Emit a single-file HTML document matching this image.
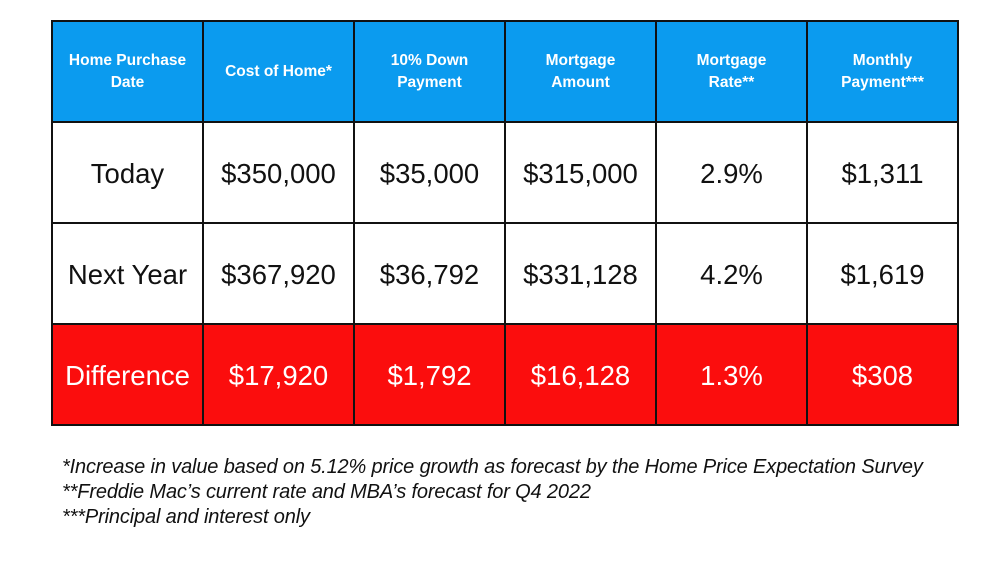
<!DOCTYPE html>
<html><head><style>
body{margin:0;width:1000px;height:563px;background:#fff;overflow:hidden;font-family:"Liberation Sans",sans-serif;}
table{position:absolute;left:51px;top:20px;border-collapse:collapse;table-layout:fixed;}
td{border:2px solid #111;text-align:center;padding:0;width:149px;}
tr.h td{background:#0b9bef;color:#fff;font-weight:bold;font-size:15.5px;height:99px;line-height:22px;}
tr.w td{height:97px;font-size:27.5px;color:#111;padding-top:2px;}
tr.r td{background:#fb0d0d;color:#fff;height:97px;font-size:27.5px;padding-top:2px;}
.n{position:absolute;left:62px;top:455px;font-style:italic;font-size:20px;line-height:25px;color:#111;letter-spacing:-0.15px;}
</style></head><body>
<table>
<tr class="h"><td>Home Purchase<br>Date</td><td>Cost of Home*</td><td>10% Down<br>Payment</td><td>Mortgage<br>Amount</td><td>Mortgage<br>Rate**</td><td>Monthly<br>Payment***</td></tr>
<tr class="w"><td>Today</td><td>$350,000</td><td>$35,000</td><td>$315,000</td><td>2.9%</td><td>$1,311</td></tr>
<tr class="w"><td>Next Year</td><td>$367,920</td><td>$36,792</td><td>$331,128</td><td>4.2%</td><td>$1,619</td></tr>
<tr class="r"><td>Difference</td><td>$17,920</td><td>$1,792</td><td>$16,128</td><td>1.3%</td><td>$308</td></tr>
</table>
<div class="n">*Increase in value based on 5.12% price growth as forecast by the Home Price Expectation Survey<br>**Freddie Mac’s current rate and MBA’s forecast for Q4 2022<br>***Principal and interest only</div>
</body></html>
